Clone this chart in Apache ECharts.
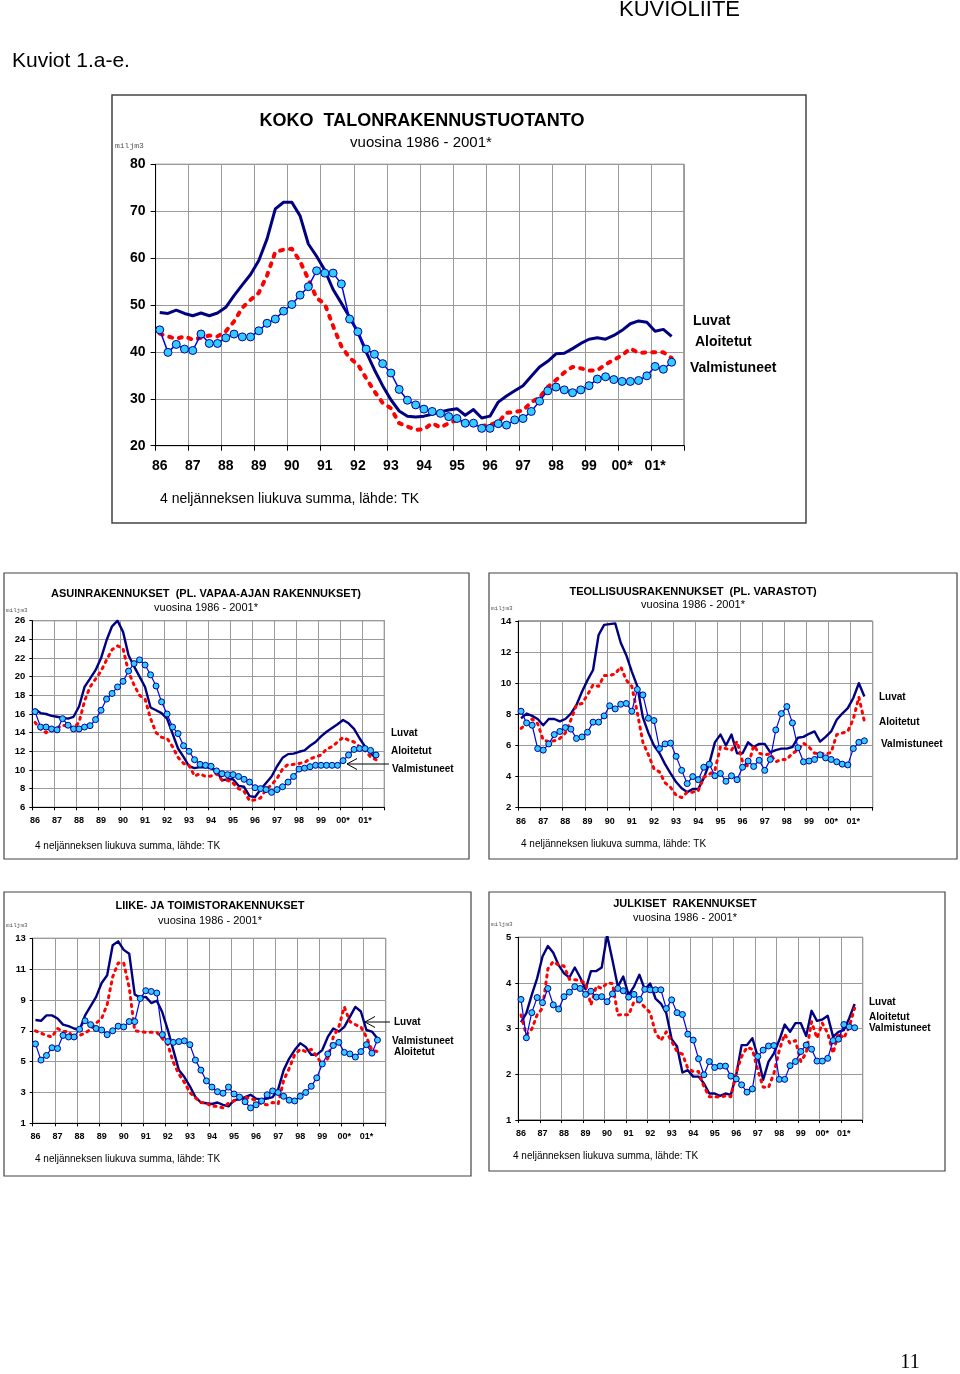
<!DOCTYPE html>
<html><head><meta charset="utf-8">
<script src="https://cdn.jsdelivr.net/npm/echarts/dist/echarts.min.js"></script>
<style>html,body{margin:0;padding:0;background:#fff}#c{width:960px;height:1374px}</style>
</head><body><div id="c"></div>
<script>
// ---- tick labels / categories ----
const yearLabels = ['86','87','88','89','90','91','92','93','94','95','96','97','98','99','00*','01*'];
const quarterCats = [];
yearLabels.forEach(function(y, yi){ for (let q = 1; q <= 4; q++) quarterCats.push((1986 + yi) + ' Q' + q); });

// ---- KOKO TALONRAKENNUSTUOTANTO ----
const kokoLuvat = [48.4,48.2,48.9,48.2,47.7,48.3,47.7,48.3,49.5,52.0,54.3,56.5,59.5,64.1,70.5,71.9,71.9,69.0,63.0,60.4,57.4,53.3,50.4,47.4,44.2,40.0,36.2,32.8,29.8,27.4,26.3,26.1,26.3,26.7,27.2,27.6,27.9,26.5,27.7,25.9,26.3,29.3,30.6,31.7,32.8,34.8,36.8,38.0,39.6,39.7,40.7,41.8,42.7,43.0,42.7,43.5,44.6,46.0,46.6,46.3,44.4,44.8,43.3];
const kokoAloitetut = [43.9,43.3,42.8,43.3,42.6,43.0,43.5,43.3,44.4,46.5,49.4,51.1,52.6,56.3,61.3,61.8,62.0,59.3,55.5,51.5,50.2,45.5,41.2,38.7,37.3,34.4,31.6,29.1,28.0,24.8,24.1,23.4,23.5,24.8,23.9,24.8,25.5,24.8,24.5,24.2,24.5,25.0,27.0,27.2,27.5,29.3,30.3,32.5,34.0,35.6,36.8,36.5,36.0,36.1,37.3,38.3,39.3,40.7,39.8,39.9,39.9,39.9,38.7];
const kokoValmistuneet = [44.7,39.9,41.6,40.6,40.3,43.8,41.8,41.8,43.0,43.8,43.2,43.2,44.5,46.1,47.0,48.7,50.1,52.1,53.9,57.3,56.8,56.8,54.5,47.0,44.3,40.6,39.5,37.5,35.5,32.0,29.7,28.7,27.8,27.3,26.9,26.2,25.8,24.8,24.8,23.7,23.7,24.7,24.4,25.5,25.8,27.3,29.5,31.7,32.5,31.9,31.3,31.9,32.8,34.2,34.7,34.1,33.7,33.7,33.9,34.9,36.9,36.3,37.8];

// ---- ASUINRAKENNUKSET ----
const asuinLuvat = [16.5,16.1,16.0,15.8,15.7,15.6,15.5,15.7,16.8,18.9,19.8,20.7,22.0,23.9,25.4,26.0,24.8,22.3,21.1,20.0,18.9,16.7,16.4,16.1,15.5,13.9,12.3,11.4,10.4,10.2,10.3,10.3,10.2,9.9,8.9,9.0,9.0,8.3,8.2,7.2,7.1,7.9,8.6,9.3,10.4,11.3,11.7,11.75,11.95,12.1,12.6,13.0,13.6,14.1,14.5,14.9,15.35,15.0,14.4,13.4,12.5,11.8,11.25];
const asuinAloitetut = [15.1,14.4,14.0,14.4,14.5,14.8,14.7,14.5,15.1,17.4,18.9,19.75,20.6,21.8,22.9,23.3,23.0,20.5,19.1,18.0,17.6,15.5,14.0,13.5,13.4,12.5,11.35,10.7,10.5,9.35,9.6,9.3,9.35,9.6,8.9,8.9,8.6,8.0,7.7,6.7,6.8,7.0,7.9,8.4,9.1,10.1,10.6,10.6,10.7,10.8,11.2,11.4,11.6,12.25,12.5,13.0,13.5,13.2,13.0,12.5,12.1,11.4,11.1];
const asuinValmistuneet = [16.25,14.6,14.6,14.4,14.3,15.5,14.8,14.4,14.4,14.6,14.75,15.4,16.4,17.6,18.2,18.9,19.5,20.6,21.4,21.8,21.25,20.2,19.0,17.3,16.0,14.6,13.9,12.6,12.0,11.1,10.6,10.5,10.4,9.9,9.6,9.5,9.5,9.3,9.0,8.7,8.1,8.0,7.9,7.6,7.9,8.2,8.7,9.3,10.1,10.2,10.35,10.5,10.5,10.5,10.5,10.5,11.0,11.6,12.2,12.3,12.3,12.1,11.6];

// ---- TEOLLISUUSRAKENNUKSET ----
const teolLuvat = [7.75,8.05,7.9,7.7,7.3,7.7,7.7,7.55,7.7,8.05,8.6,9.45,10.2,10.85,13.1,13.75,13.8,13.85,12.6,11.8,10.75,9.8,7.8,6.8,6.0,5.5,4.8,4.2,3.65,3.25,3.0,3.2,3.2,3.9,4.85,6.2,6.7,6.0,6.7,5.5,5.5,6.2,5.9,6.1,6.1,5.55,5.7,5.8,5.8,5.9,6.5,6.55,6.75,6.9,6.25,6.55,6.9,7.65,8.05,8.4,9.05,10.0,9.15];
const teolAloitetut = [7.1,7.4,7.7,7.4,6.35,6.25,6.3,6.45,6.8,7.65,8.6,8.7,9.25,9.9,9.8,10.5,10.5,10.6,11.05,10.2,9.8,8.1,6.2,5.4,4.5,4.3,3.6,3.3,2.8,2.65,3.0,3.0,3.1,3.95,4.15,4.4,5.9,5.8,5.7,6.25,4.95,4.65,6.0,5.5,5.4,5.45,4.95,5.1,5.1,5.5,5.7,6.15,5.9,5.5,5.5,5.45,5.55,6.7,6.8,6.9,7.7,9.1,7.55];
const teolValmistuneet = [8.2,7.45,7.3,5.8,5.7,6.1,6.7,6.9,7.15,7.05,6.45,6.55,6.85,7.5,7.5,7.9,8.55,8.35,8.65,8.7,8.2,9.6,9.25,7.75,7.6,5.8,6.1,6.15,5.3,4.4,3.55,4.0,3.8,4.6,4.8,4.05,4.2,3.7,4.05,3.8,4.6,5.0,4.65,5.05,4.4,5.1,7.0,8.05,8.5,7.45,5.85,4.95,5.0,5.1,5.4,5.2,5.1,4.95,4.8,4.75,5.8,6.2,6.3];

// ---- LIIKE- JA TOIMISTORAKENNUKSET ----
const liikeLuvat = [7.7,7.65,8.0,8.0,7.8,7.4,7.3,7.15,7.05,8.0,8.6,9.2,10.1,10.6,12.55,12.8,12.25,12.0,9.35,9.15,9.2,8.8,8.95,8.2,7.05,5.75,4.45,4.0,3.4,2.7,2.35,2.3,2.25,2.35,2.2,2.1,2.5,2.55,2.7,2.85,2.6,2.55,2.6,2.7,3.2,4.45,5.2,5.75,6.2,5.95,5.45,5.45,5.75,6.6,7.15,6.95,7.25,7.9,8.55,8.25,7.05,6.95,6.5];
const liikeAloitetut = [7.0,6.85,6.7,6.6,7.15,6.95,6.95,6.5,6.7,6.85,7.1,7.5,7.8,8.7,10.5,11.4,11.4,9.8,7.0,6.95,6.9,6.9,6.9,6.5,6.1,4.95,4.2,3.65,3.0,2.65,2.35,2.3,2.1,2.1,2.0,2.3,2.45,2.6,2.7,2.6,2.5,2.25,2.2,2.35,2.25,3.8,4.55,5.45,5.8,5.65,5.8,5.35,4.8,5.2,6.6,7.25,8.55,7.6,7.4,7.25,6.6,5.75,5.65];
const liikeValmistuneet = [6.15,5.1,5.4,5.9,5.85,6.7,6.6,6.6,7.1,7.65,7.4,7.15,7.05,6.75,7.0,7.3,7.25,7.6,7.6,9.1,9.6,9.55,9.45,6.75,6.3,6.25,6.3,6.35,6.1,5.1,4.45,3.75,3.35,3.05,2.95,3.35,2.9,2.7,2.4,2.0,2.2,2.45,2.85,3.1,3.0,2.75,2.5,2.45,2.75,3.0,3.4,3.95,4.85,5.5,6.05,6.25,5.6,5.5,5.3,5.65,6.1,5.55,6.4];

// ---- JULKISET RAKENNUKSET ----
const julkLuvat = [3.14,3.34,3.74,4.1,4.58,4.81,4.66,4.39,4.21,4.12,4.34,4.12,3.86,4.26,4.26,4.34,5.05,4.5,3.92,4.14,3.74,3.92,4.18,3.86,3.99,3.66,3.55,3.34,2.77,2.61,2.04,2.09,1.95,1.95,1.8,1.58,1.58,1.53,1.58,1.55,1.99,2.64,2.64,2.79,2.39,1.88,2.28,2.46,2.75,3.09,2.93,3.12,3.12,2.84,3.39,3.17,3.2,3.28,2.82,2.93,2.97,3.23,3.54];
const julkAloitetut = [3.3,2.86,2.99,3.3,3.45,4.31,4.47,4.39,4.37,4.08,4.07,4.05,4.0,3.52,3.93,3.88,4.0,3.99,3.3,3.31,3.3,3.59,3.59,3.47,3.35,2.91,2.74,2.93,2.72,2.5,2.44,2.13,2.06,2.06,1.73,1.51,1.51,1.5,1.53,1.51,2.04,2.39,2.59,2.55,2.09,1.72,1.71,2.02,2.53,2.88,2.68,2.74,2.28,2.47,3.15,2.79,3.12,2.9,2.46,2.9,2.79,3.04,3.45];
const julkValmistuneet = [3.64,2.8,3.35,3.68,3.57,3.88,3.52,3.43,3.7,3.8,3.92,3.88,3.75,3.82,3.69,3.7,3.59,3.76,3.88,3.83,3.69,3.75,3.64,3.86,3.85,3.85,3.85,3.44,3.63,3.35,3.31,2.88,2.75,2.34,1.99,2.28,2.15,2.18,2.18,1.96,1.9,1.77,1.61,1.68,2.39,2.53,2.62,2.63,1.89,1.89,2.19,2.28,2.5,2.64,2.55,2.29,2.29,2.35,2.74,2.77,3.09,3.04,3.02];

// ---- layout ----
const FONT = '"Liberation Sans", Arial, sans-serif';
const panels = [
  {grid:{left:155.6, top:164.3, width:528.4, height:281.4}, yMin:20, yMax:80, yStep:10, big:true,  data:[kokoLuvat, kokoAloitetut, kokoValmistuneet]},
  {grid:{left:32.3,  top:620.7, width:352,   height:186.6}, yMin:6,  yMax:26, yStep:2,  big:false, data:[asuinLuvat, asuinAloitetut, asuinValmistuneet]},
  {grid:{left:518.3, top:621,   width:354.4, height:186.7}, yMin:2,  yMax:14, yStep:2,  big:false, data:[teolLuvat, teolAloitetut, teolValmistuneet]},
  {grid:{left:32.7,  top:938.3, width:353,   height:185},   yMin:1,  yMax:13, yStep:2,  big:false, data:[liikeLuvat, liikeAloitetut, liikeValmistuneet]},
  {grid:{left:518.3, top:937.3, width:344.4, height:182.7}, yMin:1,  yMax:5,  yStep:1,  big:false, data:[julkLuvat, julkAloitetut, julkValmistuneet]}
];

const grids = [], xAxes = [], yAxes = [], series = [];
panels.forEach(function(p, i){
  const b = p.big;
  grids.push(Object.assign({show:true, borderColor:'#444', borderWidth:1, backgroundColor:'#fff', containLabel:false}, p.grid));
  xAxes.push({
    type:'category', gridIndex:i, data:quarterCats, boundaryGap:true,
    axisLine:{show:true, lineStyle:{color:'#000', width:1}},
    axisTick:{show:true, interval:3, length:b?5:3, lineStyle:{color:'#000', width:1}},
    axisLabel:{interval:3, color:'#000', fontFamily:FONT, fontWeight:'bold', fontSize:b?14:9, margin:b?13:9,
      formatter:function(v, idx){ return yearLabels[Math.floor(idx/4)]; }},
    splitLine:{show:true, interval:3, lineStyle:{color:'#9a9a9a', width:1}}
  });
  yAxes.push({
    type:'value', gridIndex:i, min:p.yMin, max:p.yMax, interval:p.yStep,
    axisLine:{show:true, lineStyle:{color:'#000', width:1}},
    axisTick:{show:true, length:b?5:3, lineStyle:{color:'#000'}},
    axisLabel:{color:'#000', fontFamily:FONT, fontWeight:'bold', fontSize:b?14:9.5, margin:b?10:7},
    splitLine:{show:true, lineStyle:{color:'#9a9a9a', width:1}}
  });
  series.push({type:'line', name:'Luvat', xAxisIndex:i, yAxisIndex:i, data:p.data[0], symbol:'none',
    lineStyle:{color:'#000080', width:b?3:2.4, join:'round'}, z:2});
  series.push({type:'line', name:'Aloitetut', xAxisIndex:i, yAxisIndex:i, data:p.data[1], symbol:'none',
    lineStyle:{color:'#ff0000', width:b?4:3, type:b?[3,7]:[2,5], cap:'round', join:'round'}, z:3});
  series.push({type:'line', name:'Valmistuneet', xAxisIndex:i, yAxisIndex:i, data:p.data[2], symbol:'circle',
    symbolSize:b?8:6, showAllSymbol:true,
    itemStyle:{color:'#33ccff', borderColor:'#000099', borderWidth:1},
    lineStyle:{color:'#0000ee', width:b?1.5:1.2}, z:4});
});

function txt(x, y, text, size, weight, align, family, fill){
  return {type:'text', x:x, y:y, z:10, silent:true, style:{text:text, fill:fill||'#000',
    font:(weight||'normal') + ' ' + size + 'px ' + (family||FONT), textAlign:align||'left', textVerticalAlign:'middle'}};
}
function box(x, y, w, h, lw){
  return {type:'rect', z:0, silent:true, shape:{x:x, y:y, width:w, height:h}, style:{fill:'none', stroke:'#444', lineWidth:lw}};
}
function arrow(x1, x2, y){
  return [
    {type:'line', z:10, silent:true, shape:{x1:x1, y1:y, x2:x2, y2:y}, style:{stroke:'#000', lineWidth:1}},
    {type:'polyline', z:10, silent:true, shape:{points:[[x2+10, y-5.5],[x2, y],[x2+10, y+5.5]]}, style:{stroke:'#000', fill:'none', lineWidth:1}}
  ];
}
const MONO = '"Liberation Mono", monospace';
const footer = '4 neljänneksen liukuva summa, lähde: TK';
const sub = 'vuosina 1986 - 2001*';
const graphics = [
  txt(619, 10, 'KUVIOLIITE', 22),
  txt(12, 61, 'Kuviot 1.a-e.', 21),
  txt(910, 1363, '11', 20, 'normal', 'center', '"Liberation Serif", serif'),
  // main
  box(112, 95, 694, 428, 1.5),
  txt(422, 121, 'KOKO  TALONRAKENNUSTUOTANTO', 18, 'bold', 'center'),
  txt(421, 143, sub, 15, 'normal', 'center'),
  txt(115, 146, 'miljm3', 8, 'normal', 'left', MONO, '#555'),
  txt(693, 321, 'Luvat', 14, 'bold'),
  txt(695, 342, 'Aloitetut', 14, 'bold'),
  txt(690, 368, 'Valmistuneet', 14, 'bold'),
  txt(160, 499, footer, 14),
  // asuin
  box(4, 573, 465, 286, 1.2),
  txt(206, 594, 'ASUINRAKENNUKSET  (PL. VAPAA-AJAN RAKENNUKSET)', 11, 'bold', 'center'),
  txt(206, 608, sub, 11, 'normal', 'center'),
  txt(6, 610, 'miljm3', 6, 'normal', 'left', MONO, '#555'),
  txt(391, 733, 'Luvat', 10, 'bold'),
  txt(391, 751, 'Aloitetut', 10, 'bold'),
  txt(392, 769, 'Valmistuneet', 10, 'bold'),
  txt(35, 846, footer, 10),
  // teol
  box(489, 573, 468, 286, 1.2),
  txt(693, 592, 'TEOLLISUUSRAKENNUKSET  (PL. VARASTOT)', 11, 'bold', 'center'),
  txt(693, 605, sub, 11, 'normal', 'center'),
  txt(491, 608, 'miljm3', 6, 'normal', 'left', MONO, '#555'),
  txt(879, 697, 'Luvat', 10, 'bold'),
  txt(879, 722, 'Aloitetut', 10, 'bold'),
  txt(881, 744, 'Valmistuneet', 10, 'bold'),
  txt(521, 844, footer, 10),
  // liike
  box(4, 892, 467, 284, 1.2),
  txt(210, 906, 'LIIKE- JA TOIMISTORAKENNUKSET', 11, 'bold', 'center'),
  txt(210, 921, sub, 11, 'normal', 'center'),
  txt(6, 925, 'miljm3', 6, 'normal', 'left', MONO, '#555'),
  txt(394, 1022, 'Luvat', 10, 'bold'),
  txt(392, 1041, 'Valmistuneet', 10, 'bold'),
  txt(394, 1052, 'Aloitetut', 10, 'bold'),
  txt(35, 1159, footer, 10),
  // julk
  box(489, 892, 456, 279, 1.2),
  txt(685, 904, 'JULKISET  RAKENNUKSET', 11, 'bold', 'center'),
  txt(685, 918, sub, 11, 'normal', 'center'),
  txt(491, 924, 'miljm3', 6, 'normal', 'left', MONO, '#555'),
  txt(869, 1002, 'Luvat', 10, 'bold'),
  txt(869, 1017, 'Aloitetut', 10, 'bold'),
  txt(869, 1028, 'Valmistuneet', 10, 'bold'),
  txt(513, 1156, footer, 10)
].concat(arrow(389, 347, 764), arrow(390, 365, 1022));

const chart = echarts.init(document.getElementById('c'), null, {renderer:'canvas', width:960, height:1374});
chart.setOption({
  animation:false,
  backgroundColor:'#fff',
  textStyle:{fontFamily:FONT},
  grid:grids, xAxis:xAxes, yAxis:yAxes, series:series,
  graphic:{elements:graphics}
});
</script></body></html>
